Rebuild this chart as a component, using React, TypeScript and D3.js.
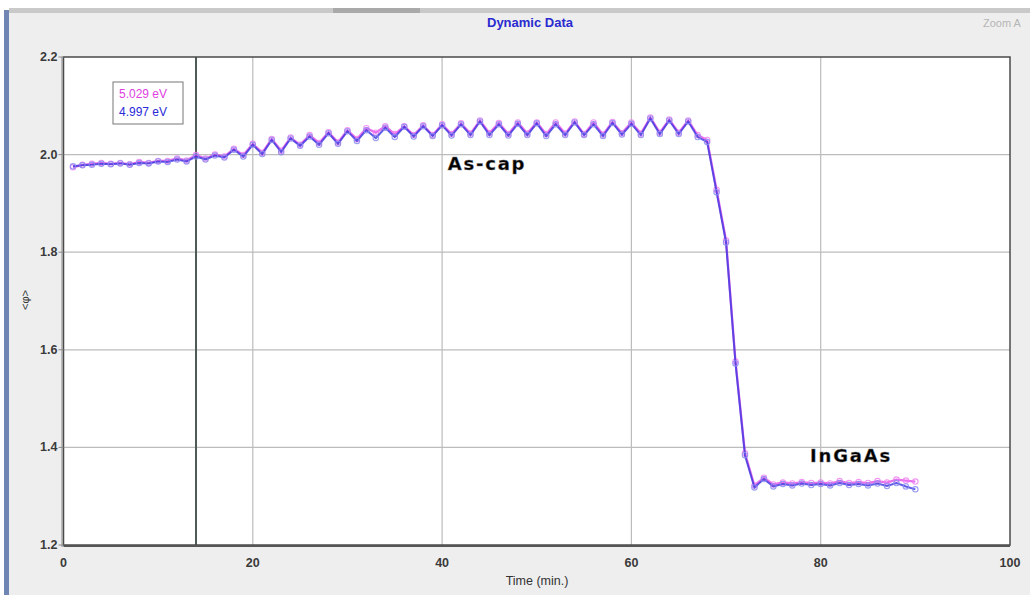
import React from "react";
import * as d3 from "d3";

const times: number[] = Array.from({ length: 90 }, (_, i) => i + 1);

const blueValues: number[] = [
  1.976, 1.978, 1.979, 1.981, 1.98, 1.982, 1.979, 1.983, 1.982, 1.986,
  1.985, 1.99, 1.986, 1.996, 1.99, 1.998, 1.994, 2.01, 1.996, 2.02,
  2.001, 2.03, 2.005, 2.033, 2.018, 2.037, 2.02, 2.044, 2.022, 2.048,
  2.028, 2.05, 2.034, 2.055, 2.036, 2.057, 2.037, 2.058, 2.038, 2.06,
  2.039, 2.062, 2.04, 2.068, 2.04, 2.062, 2.039, 2.063, 2.04, 2.064,
  2.038, 2.062, 2.04, 2.066, 2.04, 2.062, 2.038, 2.065, 2.041, 2.063,
  2.04, 2.074, 2.042, 2.07, 2.042, 2.068, 2.036, 2.026, 1.923, 1.82,
  1.572, 1.384, 1.318, 1.335, 1.32, 1.325, 1.322, 1.326, 1.323, 1.325,
  1.322, 1.327, 1.323, 1.325, 1.322, 1.326, 1.321, 1.327, 1.32, 1.314,
];

const magentaValues: number[] = [
  1.974, 1.979, 1.981, 1.983, 1.981, 1.983, 1.98, 1.985, 1.983, 1.987,
  1.987, 1.992, 1.988, 1.999, 1.992, 2.0, 1.996, 2.012, 1.999, 2.022,
  2.004, 2.032, 2.008, 2.035, 2.02, 2.04, 2.024, 2.046, 2.025, 2.05,
  2.032, 2.054, 2.045, 2.058, 2.042, 2.058, 2.04, 2.06, 2.04, 2.062,
  2.042, 2.064, 2.043, 2.07, 2.044, 2.065, 2.042, 2.066, 2.043, 2.066,
  2.042, 2.066, 2.043, 2.068, 2.042, 2.066, 2.041, 2.067, 2.044, 2.066,
  2.043, 2.076, 2.045, 2.072, 2.045, 2.07, 2.04, 2.03, 1.928, 1.824,
  1.576, 1.388, 1.322, 1.338, 1.324, 1.328, 1.326, 1.329, 1.327, 1.328,
  1.326, 1.331, 1.327, 1.329, 1.327, 1.331, 1.328, 1.334, 1.332, 1.33,
];

const xTicks: number[] = [0, 20, 40, 60, 80, 100];
const yTicks: number[] = [1.2, 1.4, 1.6, 1.8, 2.0, 2.2];
const legendLabels: string[] = ["5.029 eV", "4.997 eV"];
const cursorTime = 14;

const W = 1030;
const H = 595;
const L = 63.5;
const R = 1010;
const T = 57;
const B = 545;

export default function App() {
  const x = d3.scaleLinear().domain([0, 100]).range([L, R]);
  const y = d3.scaleLinear().domain([1.2, 2.2]).range([B, T]);
  const line = d3
    .line<[number, number]>()
    .x((d) => x(d[0]))
    .y((d) => y(d[1]));
  const mData: [number, number][] = times.map((t, i) => [t, magentaValues[i]]);
  const bData: [number, number][] = times.map((t, i) => [t, blueValues[i]]);
  const tickFont = "'Liberation Sans Narrow', 'Liberation Sans', Arial, sans-serif";
  const annFont = "'DejaVu Sans', sans-serif";

  return (
    <svg
      width={W}
      height={H}
      style={{ position: "absolute", left: 0, top: 0, display: "block" }}
    >
      <rect x={0} y={0} width={W} height={H} fill="#ffffff" />
      <rect x={9} y={10} width={W - 9} height={H - 10} fill="#eeeeee" />
      <rect x={9} y={8} width={W - 9} height={5} fill="#c9c9c9" />
      <rect x={333} y={8} width={87} height={5} fill="#a9a9a9" />
      <rect x={4} y={10} width={5} height={H - 10} fill="#6f86b4" />

      <text
        x={530}
        y={27}
        textAnchor="middle"
        fontFamily={tickFont}
        fontWeight="bold"
        fontSize={13}
        fill="#2a2ad0"
      >
        Dynamic Data
      </text>
      <text x={983} y={27} fontFamily={tickFont} fontSize={11} fill="#b5b5b5">
        Zoom A
      </text>

      <rect x={L} y={T} width={R - L} height={B - T} fill="#ffffff" />

      {xTicks.slice(1, -1).map((t) => (
        <line
          key={"gx" + t}
          x1={x(t)}
          x2={x(t)}
          y1={T}
          y2={B}
          stroke="#bcbcbc"
          strokeWidth={1.2}
        />
      ))}
      {yTicks.slice(1, -1).map((v) => (
        <line
          key={"gy" + v}
          x1={L}
          x2={R}
          y1={y(v)}
          y2={y(v)}
          stroke="#bcbcbc"
          strokeWidth={1.2}
        />
      ))}

      <line
        x1={x(cursorTime)}
        x2={x(cursorTime)}
        y1={T}
        y2={B}
        stroke="#4e5a56"
        strokeWidth={2}
      />

      <path
        d={line(mData) || ""}
        fill="none"
        stroke="#e040e8"
        strokeWidth={2.3}
        strokeOpacity={0.75}
      />
      {mData.map((d, i) => (
        <circle
          key={"mc" + i}
          cx={x(d[0])}
          cy={y(d[1])}
          r={2.7}
          fill="none"
          stroke="#f07cf0"
          strokeWidth={1.1}
          strokeOpacity={0.8}
        />
      ))}
      <path
        d={line(bData) || ""}
        fill="none"
        stroke="#3a36e0"
        strokeWidth={2}
        strokeOpacity={0.8}
      />
      {bData.map((d, i) => (
        <circle
          key={"bc" + i}
          cx={x(d[0])}
          cy={y(d[1])}
          r={2.7}
          fill="none"
          stroke="#8a8cf0"
          strokeWidth={1.1}
          strokeOpacity={0.85}
        />
      ))}

      <rect
        x={L}
        y={T}
        width={R - L}
        height={B - T}
        fill="none"
        stroke="#4a4a4a"
        strokeWidth={1.5}
      />
      <line x1={L} x2={R} y1={B + 1} y2={B + 1} stroke="#555" strokeWidth={2} />
      <line x1={L - 1.5} x2={L - 1.5} y1={T} y2={B + 2} stroke="#888" strokeWidth={1} />

      {yTicks.map((v) => (
        <g key={"ty" + v}>
          <line x1={L - 5} x2={L} y1={y(v)} y2={y(v)} stroke="#888" />
          <text
            x={L - 6}
            y={y(v) + 4}
            textAnchor="end"
            fontFamily={tickFont}
            fontWeight="bold"
            fontSize={12.5}
            fill="#3a3a3a"
          >
            {v.toFixed(1)}
          </text>
        </g>
      ))}
      {xTicks.map((t) => (
        <text
          key={"tx" + t}
          x={x(t)}
          y={567}
          textAnchor="middle"
          fontFamily={tickFont}
          fontWeight="bold"
          fontSize={12.5}
          fill="#3a3a3a"
        >
          {t}
        </text>
      ))}
      <text
        x={537}
        y={585}
        textAnchor="middle"
        fontFamily={tickFont}
        fontSize={12.5}
        fill="#333"
      >
        Time (min.)
      </text>
      <text
        transform="translate(29,300) rotate(-90)"
        textAnchor="middle"
        fontFamily={tickFont}
        fontSize={11}
        fill="#333"
      >
        {"<φ>"}
      </text>

      <rect
        x={113}
        y={82}
        width={70}
        height={42}
        fill="#ffffff"
        stroke="#777"
        strokeWidth={1}
      />
      <text x={119} y={98} fontFamily="'Liberation Sans', Arial, sans-serif" fontSize={12} fill="#e040e0">
        {legendLabels[0]}
      </text>
      <text x={119} y={116} fontFamily="'Liberation Sans', Arial, sans-serif" fontSize={12} fill="#2a2ad8">
        {legendLabels[1]}
      </text>

      <text
        x={487}
        y={170}
        textAnchor="middle"
        fontFamily={annFont}
        fontWeight="bold"
        fontSize={18}
        letterSpacing={1.8}
        fill="#000"
        stroke="#777"
        strokeWidth={0.4}
      >
        As-cap
      </text>
      <text
        x={851}
        y={462}
        textAnchor="middle"
        fontFamily={annFont}
        fontWeight="bold"
        fontSize={18}
        letterSpacing={1.8}
        fill="#000"
        stroke="#777"
        strokeWidth={0.4}
      >
        InGaAs
      </text>
    </svg>
  );
}
